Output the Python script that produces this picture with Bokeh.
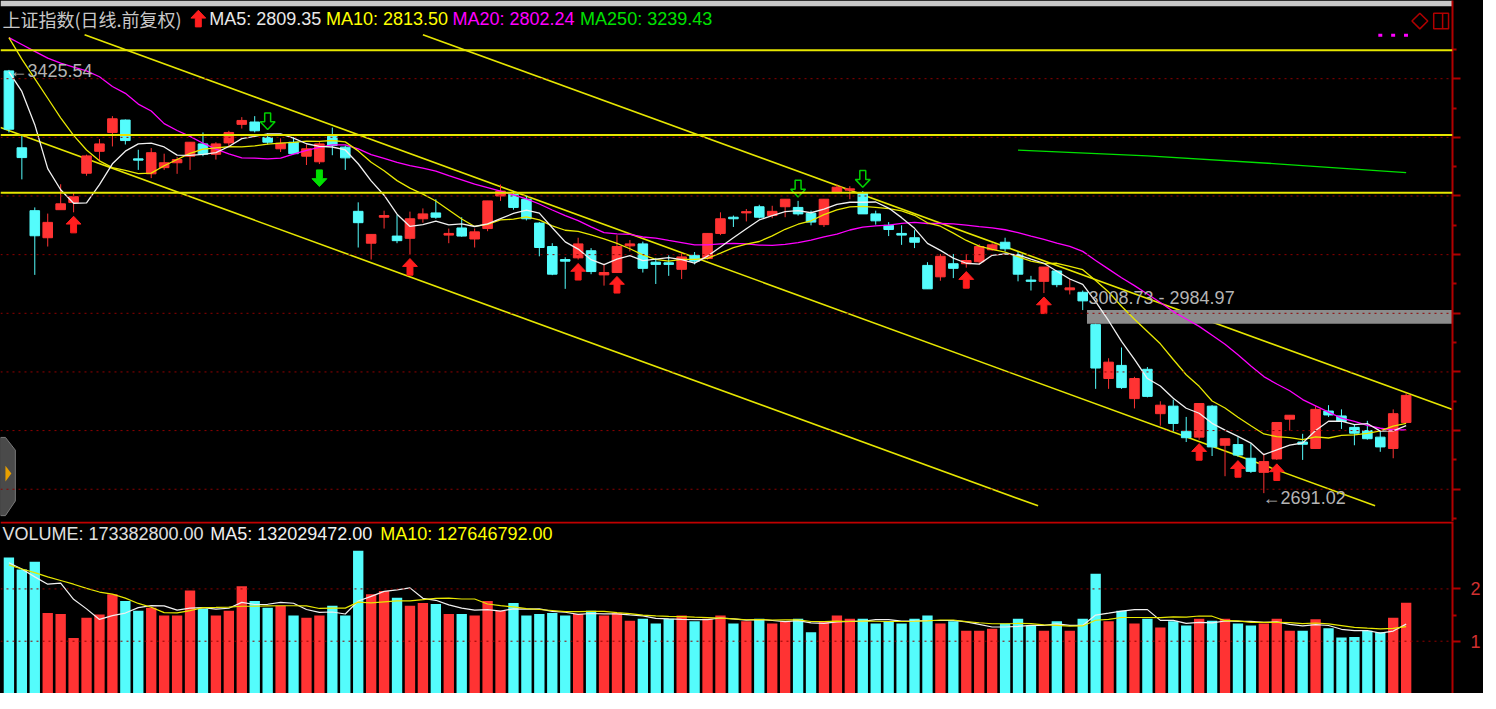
import numpy as np
import pandas as pd
from bokeh.plotting import figure
from bokeh.layouts import column
from bokeh.models import Range1d, LinearAxis, FixedTicker, Label, Span
from bokeh.embed import file_html
from bokeh.resources import INLINE

# ---------------- data ----------------
opens = [3423.85, 3290.35, 3181.28, 3134.29, 3182.97, 3195.35, 3246.24, 3284.24, 3316.98, 3338.52,
         3271.18, 3245.23, 3255.91, 3264.39, 3275.76, 3297.13, 3279.15, 3298.83, 3331.06, 3335.13,
         3308.50, 3288.65, 3300.02, 3275.76, 3266.09, 3310.20, 3291.53, 3180.09, 3124.79, 3169.91,
         3137.17, 3133.27, 3167.20, 3177.37, 3138.87, 3151.25, 3132.08, 3150.23, 3206.72, 3209.60,
         3201.12, 3159.73, 3119.02, 3096.46, 3099.34, 3111.73, 3069.83, 3073.90, 3120.21, 3123.60,
         3091.88, 3090.86, 3079.50, 3103.75, 3098.16, 3141.75, 3169.91, 3177.37, 3188.06, 3172.79,
         3188.06, 3186.87, 3176.69, 3157.02, 3213.51, 3216.90, 3212.32, 3175.68, 3155.83, 3141.75,
         3134.29, 3086.28, 3066.44, 3089.17, 3089.17, 3092.56, 3113.42, 3126.48, 3104.94, 3060.84,
         3058.63, 3076.61, 3043.88, 3039.63, 2983.50, 2890.02, 2912.75, 2855.08, 2905.96, 2828.96,
         2842.02, 2798.42, 2788.24, 2842.02, 2774.16, 2775.35, 2751.60, 2727.17, 2750.42, 2819.45,
         2779.76, 2768.57, 2833.53, 2825.05, 2805.21, 2799.61, 2788.24, 2768.57, 2813.69]
highs = [3425.54, 3313.59, 3186.87, 3176.19, 3227.08, 3212.32, 3278.47, 3305.61, 3345.31, 3339.50,
         3286.95, 3289.84, 3280.17, 3274.57, 3300.02, 3316.98, 3300.02, 3319.87, 3343.61, 3345.31,
         3315.28, 3306.80, 3308.50, 3296.11, 3300.02, 3325.46, 3294.42, 3195.69, 3140.06, 3181.28,
         3173.98, 3179.58, 3185.18, 3201.12, 3150.23, 3169.91, 3150.23, 3198.24, 3226.57, 3215.20,
         3206.72, 3161.43, 3124.79, 3100.36, 3134.29, 3116.31, 3089.17, 3138.87, 3130.39, 3127.50,
         3099.34, 3103.75, 3107.83, 3109.52, 3141.75, 3178.39, 3172.79, 3184.16, 3191.45, 3189.76,
         3201.12, 3198.24, 3181.28, 3201.12, 3226.57, 3223.68, 3215.20, 3181.28, 3161.43, 3155.83,
         3147.35, 3091.88, 3106.13, 3106.13, 3106.13, 3123.09, 3124.79, 3134.29, 3109.52, 3068.13,
         3083.40, 3077.80, 3062.53, 3042.69, 2984.97, 2925.14, 2943.79, 2892.90, 2909.87, 2850.50,
         2853.37, 2823.36, 2846.59, 2843.71, 2785.53, 2788.24, 2777.05, 2760.08, 2813.69, 2826.24,
         2794.01, 2842.02, 2843.71, 2836.42, 2810.97, 2816.57, 2799.61, 2836.42, 2864.58]
lows = [3316.98, 3235.56, 3069.83, 3119.02, 3182.97, 3178.39, 3241.83, 3267.79, 3292.72, 3296.11,
        3252.01, 3237.76, 3252.01, 3245.23, 3252.01, 3275.76, 3269.99, 3291.53, 3323.76, 3316.98,
        3296.11, 3283.05, 3279.15, 3260.49, 3262.19, 3277.46, 3252.01, 3117.33, 3096.46, 3150.23,
        3124.79, 3104.94, 3160.41, 3167.20, 3124.79, 3135.98, 3117.33, 3145.65, 3198.24, 3182.97,
        3164.31, 3102.06, 3069.32, 3045.57, 3096.46, 3071.02, 3051.17, 3073.90, 3110.54, 3073.90,
        3054.05, 3068.13, 3062.53, 3087.98, 3096.46, 3138.87, 3152.95, 3162.62, 3167.70, 3168.21,
        3169.91, 3172.79, 3155.83, 3152.95, 3213.51, 3201.12, 3175.68, 3157.02, 3137.17, 3121.90,
        3116.31, 3045.57, 3059.65, 3064.23, 3082.38, 3087.98, 3111.73, 3110.54, 3058.63, 3042.69,
        3038.28, 3048.46, 3035.90, 3008.73, 2872.04, 2872.04, 2872.04, 2838.11, 2857.28, 2808.09,
        2798.42, 2779.76, 2783.83, 2755.50, 2720.41, 2754.32, 2726.16, 2691.02, 2748.70, 2799.61,
        2748.72, 2768.57, 2823.36, 2802.49, 2774.16, 2783.83, 2762.80, 2751.60, 2813.69]
closes = [3322.58, 3273.38, 3137.68, 3160.92, 3193.15, 3205.53, 3276.27, 3297.13, 3340.73, 3302.90,
          3268.97, 3281.87, 3264.39, 3269.99, 3300.02, 3279.15, 3297.13, 3316.98, 3337.84, 3319.87,
          3300.02, 3298.32, 3280.17, 3288.65, 3297.13, 3294.42, 3272.88, 3160.41, 3140.06, 3172.79,
          3129.20, 3167.20, 3175.68, 3169.91, 3141.75, 3137.17, 3144.47, 3198.24, 3215.20, 3186.87,
          3167.20, 3117.33, 3071.02, 3093.58, 3123.60, 3075.60, 3073.90, 3119.02, 3123.60, 3081.19,
          3087.98, 3087.98, 3101.00, 3093.58, 3141.75, 3167.20, 3167.20, 3179.58, 3169.91, 3180.09,
          3201.12, 3175.68, 3161.43, 3201.12, 3221.98, 3219.10, 3175.68, 3163.62, 3148.54, 3138.87,
          3126.48, 3045.57, 3102.06, 3081.19, 3094.76, 3119.02, 3121.90, 3115.12, 3071.02, 3058.63,
          3083.40, 3052.87, 3047.27, 3024.71, 2908.17, 2918.35, 2874.25, 2890.02, 2858.98, 2843.71,
          2811.99, 2787.23, 2846.59, 2771.28, 2785.53, 2757.20, 2728.87, 2745.83, 2813.69, 2826.24,
          2775.86, 2836.42, 2826.75, 2815.38, 2795.03, 2785.53, 2771.28, 2828.96, 2860.67]
# volume in units of 100 million (axis label 1, 2)
volumes = [2.60, 2.37, 2.52, 1.54, 1.52, 1.06, 1.45, 1.51, 1.90, 1.77,
           1.58, 1.64, 1.49, 1.49, 1.97, 1.62, 1.49, 1.58, 2.05, 1.77,
           1.64, 1.68, 1.49, 1.45, 1.49, 1.68, 1.49, 2.73, 1.90, 1.96,
           1.83, 1.68, 1.73, 1.71, 1.52, 1.52, 1.49, 1.77, 1.58, 1.73,
           1.49, 1.52, 1.54, 1.49, 1.52, 1.58, 1.49, 1.54, 1.39, 1.43,
           1.34, 1.43, 1.49, 1.38, 1.43, 1.49, 1.34, 1.38, 1.43, 1.34,
           1.38, 1.43, 1.17, 1.38, 1.49, 1.43, 1.43, 1.34, 1.38, 1.34,
           1.43, 1.49, 1.34, 1.38, 1.20, 1.20, 1.24, 1.34, 1.43, 1.30,
           1.20, 1.38, 1.20, 1.43, 2.29, 1.38, 1.58, 1.34, 1.43, 1.26,
           1.38, 1.30, 1.43, 1.39, 1.43, 1.34, 1.30, 1.34, 1.43, 1.20,
           1.20, 1.42, 1.25, 1.07, 1.08, 1.20, 1.17, 1.45, 1.734]
# moving-average values before enough bars are on screen
ma5_head = [3422.15, 3388.23, 3330.55, 3254.20]
ma10_head = [3481.52, 3444.20, 3410.28, 3376.35, 3342.42, 3311.89, 3286.45, 3267.79, 3255.91]
ma20_head = [3481.52, 3469.65, 3457.77, 3445.90, 3437.42, 3430.43, 3423.85, 3413.67, 3396.71, 3384.83,
             3366.17, 3354.30, 3332.25, 3320.37, 3310.20, 3298.32, 3288.14, 3279.66, 3272.88]
ma250_idx = [78, 88, 98, 108]
ma250_vals = [3286.4, 3276.2, 3262.6, 3247.4]
vol_ma5_head = [2.50, 2.38, 2.23, 2.09]
vol_ma10_head = [2.46, 2.38, 2.31, 2.23, 2.16, 2.09, 2.01, 1.94, 1.90]

# drawn objects
hline_prices = [3459.5, 3312.4, 3212.3]
channel_x0 = [-0.65, 5.85, 32.0]
channel_y0 = [3325.46, 3486.6, 3486.6]
channel_x1 = [79.55, 105.6, 111.58]
channel_y1 = [2669.0, 2669.0, 2836.1]
gap_index = 83
gap_high = 3008.73
gap_low = 2984.97
up_signal_idx = [5, 31, 44, 47, 74, 80, 92, 95, 98]
down_signal_idx = [24]
hollow_down_idx = [20, 61, 66]
price_ticks = [3410.28, 3308.50, 3206.72, 3104.94, 3003.16, 2901.39, 2799.61, 2697.83]
price_minor = [3461.17, 3359.39, 3257.61, 3155.83, 3054.05, 2952.27, 2850.50, 2748.72, 2646.94]
vol_ticks = [1, 2]
vol_minor = [1.5]
vol_tick_labels = {1: "1", 2: "2"}
vol_unit = "X1亿"

# ---------------- derived ----------------
o = np.array(opens); h = np.array(highs); l = np.array(lows); c = np.array(closes)
vol = np.array(volumes)
idx = np.arange(len(c))
RED = "#FF3333"
CYAN = "#54FCFC"
colors = [RED if cc >= oo else CYAN for oo, cc in zip(o, c)]


def moving(values, n, head):
    s = pd.Series(values).rolling(n).mean().to_numpy()
    s[:n - 1] = head
    return s


ma5 = moving(c, 5, ma5_head)
ma10 = moving(c, 10, ma10_head)
ma20 = moving(c, 20, ma20_head)
vma5 = moving(vol, 5, vol_ma5_head)
vma10 = moving(vol, 10, vol_ma10_head)

# pixel-to-data helpers for layout of texts and decorations
PXW = 13.08      # pixels per bar
PPX = 1.6963     # price per pixel


def PX(x):
    return (x - 8.5) / PXW


def PY(y):
    return 3545.98 - PPX * y


def VY(y):
    return (709.3 - y) / 53.3


AXIS = "#B00000"
GRID = "#900000"
YEL = "#E6E600"

p = figure(frame_width=1452, frame_height=521,
           x_range=Range1d(PX(0), PX(1468)), y_range=Range1d(PY(533), PY(0)),
           x_axis_type=None, y_axis_type=None, output_backend="svg", toolbar_location=None,
           background_fill_color="black", border_fill_color="black", outline_line_color=None,
           min_border_left=0, min_border_top=0, min_border_bottom=0, min_border_right=28)

pax = LinearAxis(ticker=FixedTicker(ticks=price_ticks, minor_ticks=price_minor),
                 axis_line_color=AXIS, axis_line_width=2,
                 major_tick_line_color=AXIS, major_tick_line_width=2,
                 minor_tick_line_color=AXIS, minor_tick_line_width=2,
                 major_tick_in=0, major_tick_out=8, minor_tick_in=0, minor_tick_out=4,
                 major_label_overrides={t: "" for t in price_ticks},
                 major_label_text_font_size="12px", major_label_standoff=0)
p.add_layout(pax, "right")

# top gray strip
p.quad(left=PX(0), right=PX(1468), top=PY(0), bottom=PY(6), fill_color="#C8C8C8", line_color=None)

for t in price_ticks:
    p.add_layout(Span(location=t, dimension="width", line_color=GRID, line_dash="2 4", line_width=1))

for hp in hline_prices:
    p.add_layout(Span(location=hp, dimension="width", line_color=YEL, line_width=2))

p.segment(x0=channel_x0, y0=channel_y0, x1=channel_x1, y1=channel_y1, line_color=YEL, line_width=1.6)

# gap band
p.quad(left=gap_index + 0.33, right=PX(1468), top=gap_high, bottom=gap_low,
       fill_color="#8C8C8C", line_color=None)

# candles
p.segment(x0=idx, y0=l, x1=idx, y1=h, line_color=colors, line_width=1)
p.vbar(x=idx, top=np.maximum(o, c), bottom=np.minimum(o, c), width=0.74,
       fill_color=colors, line_color=colors, line_width=1)

# moving averages
p.line(idx, ma20, line_color="#FF00FF", line_width=1.3)
p.line(idx, ma10, line_color="#E8E800", line_width=1.3)
p.line(idx, ma5, line_color="#F0F0F0", line_width=1.3)
p.line(ma250_idx, ma250_vals, line_color="#00E000", line_width=1.3)


def arrow(cx, tip, direction, xs, ys):
    # arrow shape in pixel offsets: tip, head and stem
    pts = [(0, 0), (7.5, 8), (3, 8), (3, 17), (-3, 17), (-3, 8), (-7.5, 8)]
    xs.append([cx + dx / PXW for dx, dy in pts])
    ys.append([tip - direction * dy * PPX for dx, dy in pts])


ux, uy = [], []
for i in up_signal_idx:
    arrow(i, l[i] - 4 * PPX, 1, ux, uy)
p.patches(ux, uy, fill_color="#FF1E1E", line_color="#FF1E1E")

dx_, dy_ = [], []
for i in down_signal_idx:
    arrow(i, l[i] - 23 * PPX, -1, dx_, dy_)
p.patches(dx_, dy_, fill_color="#00E000", line_color="#00E000")

hx, hy = [], []
for i in hollow_down_idx:
    arrow(i, h[i] + 4 * PPX, -1, hx, hy)
p.patches(hx, hy, fill_color=None, line_color="#00D000", line_width=1.5)

# header arrow
hax, hay = [], []
arrow(PX(200), PY(10), 1, hax, hay)
p.patches(hax, hay, fill_color="#FF1E1E", line_color="#FF1E1E")


def lab(fig, x, y, text, color, size="18px", font="Liberation Sans", align="left", **kw):
    fig.add_layout(Label(x=x, y=y, text=text, text_color=color, text_font=font,
                         text_font_size=size, text_baseline="middle", text_align=align, **kw))


lab(p, PX(2), PY(19), "上证指数(日线.前复权)", "#C8C8C8", size="18px", font="Noto Sans CJK SC")
lab(p, PX(211), PY(19), "MA5: 2809.35", "#E8E8E8")
lab(p, PX(329), PY(19), "MA10: 2813.50", "#FFFF00")
lab(p, PX(457), PY(19), "MA20: 2802.24", "#FF00FF")
lab(p, PX(586), PY(19), "MA250: 3239.43", "#00E000")
lab(p, PX(9), PY(72), "←3425.54", "#B4B4B4")
lab(p, PX(1100), PY(304), "3008.73 - 2984.97", "#B4B4B4")
lab(p, PX(1276), PY(509), "←2691.02", "#B4B4B4")

# top-right icons
p.patch([PX(1427), PX(1435), PX(1443), PX(1435)], [PY(21), PY(13), PY(21), PY(29)],
        fill_color=None, line_color=AXIS, line_width=1.5)
p.quad(left=PX(1449), right=PX(1464), top=PY(13), bottom=PY(29), fill_color=None,
       line_color=AXIS, line_width=1.5)
p.segment(x0=PX(1458), y0=PY(13), x1=PX(1458), y1=PY(29), line_color=AXIS, line_width=1.5)
p.rect(x=[PX(1395), PX(1408), PX(1421)], y=PY(35.5), width=4 / PXW, height=3 * PPX,
       fill_color="#FF00FF", line_color=None)

# left tab
p.patch([PX(0), PX(5), PX(15), PX(15), PX(5), PX(0)],
        [PY(447), PY(447), PY(460), PY(512), PY(527), PY(527)],
        fill_color="#4A4A4A", line_color="#7A7A7A", line_width=1)
p.patch([PX(5), PX(11), PX(5)], [PY(476), PY(484), PY(492)], fill_color="#E8A000", line_color=None)

# ---------------- volume panel ----------------
v = figure(frame_width=1452, frame_height=172, x_range=p.x_range, y_range=Range1d(0, VY(534)),
           x_axis_type=None, y_axis_type=None, output_backend="svg", toolbar_location=None,
           background_fill_color="black", border_fill_color="black", outline_line_color=None,
           min_border_left=0, min_border_top=0, min_border_bottom=0, min_border_right=28)
vax = LinearAxis(ticker=FixedTicker(ticks=vol_ticks, minor_ticks=vol_minor),
                 axis_line_color=AXIS, axis_line_width=2,
                 major_tick_line_color=AXIS, major_tick_line_width=2,
                 minor_tick_line_color=AXIS, minor_tick_line_width=2,
                 major_tick_in=0, major_tick_out=8, minor_tick_in=0, minor_tick_out=4,
                 major_label_text_color="#D03030", major_label_text_font_size="18px",
                 major_label_text_font="Liberation Sans", major_label_standoff=10,
                 major_label_overrides=vol_tick_labels)
v.add_layout(vax, "right")
for t in vol_ticks:
    v.add_layout(Span(location=t, dimension="width", line_color=GRID, line_dash="2 4", line_width=1))
v.add_layout(Span(location=VY(535), dimension="width", line_color="#C00000", line_width=2))

v.vbar(x=idx, top=vol, bottom=0, width=0.8, fill_color=colors, line_color=None)
v.line(idx, vma5, line_color="#F0F0F0", line_width=1.2)
v.line(idx, vma10, line_color="#E8E800", line_width=1.2)

lab(v, PX(2), VY(547), "VOLUME: 173382800.00", "#E0E0E0")
lab(v, PX(212), VY(547), "MA5: 132029472.00", "#F0F0F0")
lab(v, PX(384), VY(547), "MA10: 127646792.00", "#FFFF00")
# unit box under the volume axis
lab(v, PX(1470), VY(698), vol_unit, "#D03030", size="10px",
    border_line_color=AXIS, border_line_width=1, padding=1)

layout = column(p, v, spacing=0, styles={"background-color": "black"})
open("out.html", "w").write(file_html(layout, INLINE))
